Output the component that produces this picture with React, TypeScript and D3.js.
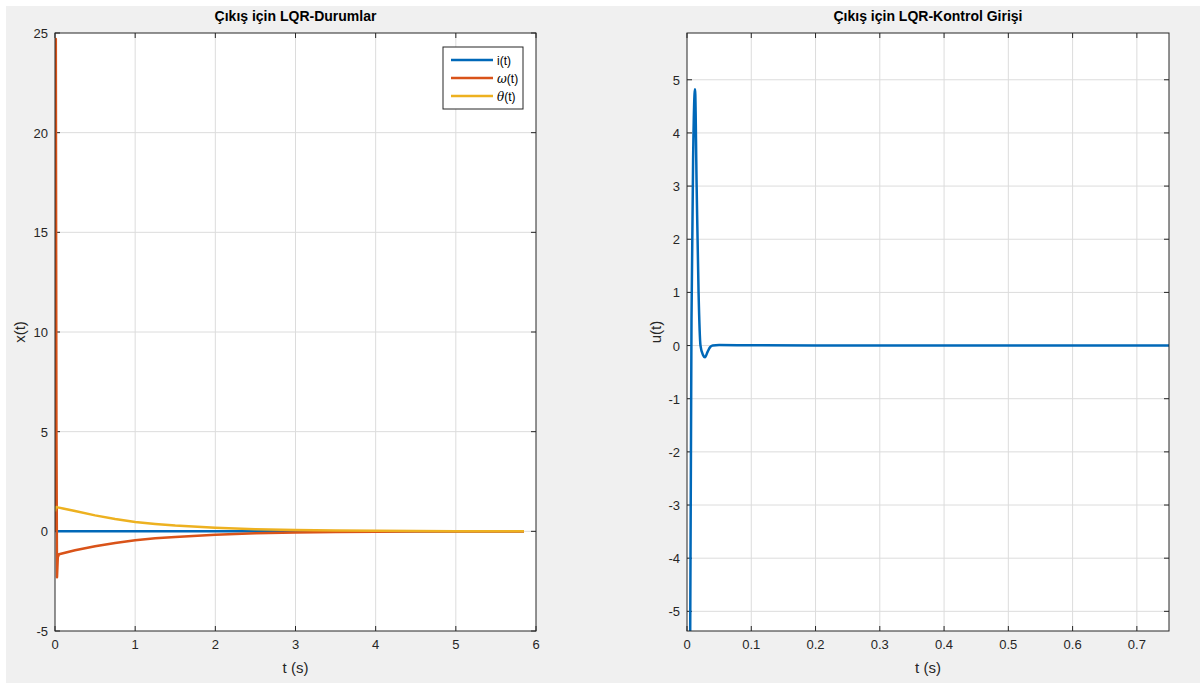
import React, { useRef, useEffect } from 'react';
import * as d3 from 'd3';

// left plot: states
const stateTime = [0, 0.004, 0.01, 0.018, 0.025, 0.035, 0.05, 0.1, 0.25, 0.5, 0.75, 1, 1.25, 1.5, 2, 2.5, 3, 3.5, 4, 4.5, 5, 5.5, 5.85];
const iValues = [1.0, 0.5, 0.1, 0.0, 0.0, 0.0, 0.0, 0, 0, 0, 0, 0, 0, 0, 0, 0, 0, 0, 0, 0, 0, 0, 0];
const omegaValues = [0, 10, 24.7, 5, -2.3, -1.3, -1.15, -1.1, -0.95, -0.75, -0.58, -0.45, -0.35, -0.28, -0.17, -0.1, -0.06, -0.035, -0.02, -0.012, -0.008, -0.005, -0.003];
const thetaValues = [1.0, 1.1, 1.2, 1.22, 1.22, 1.2, 1.19, 1.15, 1.02, 0.8, 0.62, 0.47, 0.37, 0.29, 0.18, 0.11, 0.065, 0.04, 0.025, 0.015, 0.01, 0.005, 0.003];

// right plot: control input
const uTime = [0, 0.007, 0.0095, 0.0125, 0.015, 0.018, 0.021, 0.025, 0.028, 0.032, 0.036, 0.04, 0.05, 0.1, 0.2, 0.4, 0.6, 0.75];
const uValues = [-20, 0.5, 3.5, 4.82, 3.0, 1.0, 0.0, -0.18, -0.22, -0.12, -0.03, 0.0, 0.01, 0.005, 0.0, 0.0, 0.0, 0.0];

const stateLabels = ['i(t)', 'ω(t)', 'θ(t)'];
const stateColors = ['#0068B8', '#D95319', '#EDB120'];

const leftXTicks = [0, 1, 2, 3, 4, 5, 6];
const leftYTicks = [-5, 0, 5, 10, 15, 20, 25];
const rightXTicks = [0, 0.1, 0.2, 0.3, 0.4, 0.5, 0.6, 0.7];
const rightYTicks = [-5, -4, -3, -2, -1, 0, 1, 2, 3, 4, 5];

const FONT = 'Liberation Sans, Arial, Helvetica, sans-serif';

function App() {
  const svgRef = useRef<SVGSVGElement>(null);

  useEffect(() => {
    const svg = d3.select(svgRef.current);
    svg.selectAll('*').remove();

    svg.append('rect').attr('width', 1200).attr('height', 686).attr('fill', '#ffffff');
    svg.append('rect').attr('x', 6).attr('y', 6).attr('width', 1194).attr('height', 677).attr('fill', '#f0f0f0');

    const defs = svg.append('defs');

    function drawAxes(opts: any) {
      const { left, right, top, bottom, xDomain, yDomain, xTicks, yTicks, title, xLabel, yLabel, id, yLabelX } = opts;
      const x = d3.scaleLinear().domain(xDomain).range([left, right]);
      const y = d3.scaleLinear().domain(yDomain).range([bottom, top]);
      const g = svg.append('g');

      g.append('rect')
        .attr('x', left).attr('y', top)
        .attr('width', right - left).attr('height', bottom - top)
        .attr('fill', '#ffffff');

      // grid
      g.selectAll('.gx').data(xTicks.filter((t: number) => x(t) > left + 1 && x(t) < right - 1)).enter()
        .append('line')
        .attr('x1', (d: number) => x(d)).attr('x2', (d: number) => x(d))
        .attr('y1', top).attr('y2', bottom)
        .attr('stroke', '#dcdcdc').attr('stroke-width', 1);
      g.selectAll('.gy').data(yTicks.filter((t: number) => y(t) > top + 1 && y(t) < bottom - 1)).enter()
        .append('line')
        .attr('y1', (d: number) => y(d)).attr('y2', (d: number) => y(d))
        .attr('x1', left).attr('x2', right)
        .attr('stroke', '#dcdcdc').attr('stroke-width', 1);

      defs.append('clipPath').attr('id', id)
        .append('rect').attr('x', left).attr('y', top).attr('width', right - left).attr('height', bottom - top);

      // ticks (inward, all four sides)
      const tl = 5;
      xTicks.forEach((t: number) => {
        g.append('line').attr('x1', x(t)).attr('x2', x(t)).attr('y1', bottom).attr('y2', bottom - tl).attr('stroke', '#262626');
        g.append('line').attr('x1', x(t)).attr('x2', x(t)).attr('y1', top).attr('y2', top + tl).attr('stroke', '#262626');
        g.append('text').attr('x', x(t)).attr('y', bottom + 18)
          .attr('text-anchor', 'middle').style('font-family', FONT).style('font-size', '13px').attr('fill', '#262626')
          .text(String(t));
      });
      yTicks.forEach((t: number) => {
        g.append('line').attr('y1', y(t)).attr('y2', y(t)).attr('x1', left).attr('x2', left + tl).attr('stroke', '#262626');
        g.append('line').attr('y1', y(t)).attr('y2', y(t)).attr('x1', right).attr('x2', right - tl).attr('stroke', '#262626');
        g.append('text').attr('x', left - 7).attr('y', y(t) + 5)
          .attr('text-anchor', 'end').style('font-family', FONT).style('font-size', '13px').attr('fill', '#262626')
          .text(String(t));
      });

      // title and labels
      svg.append('text').attr('x', (left + right) / 2).attr('y', 21)
        .attr('text-anchor', 'middle').style('font-family', FONT).style('font-size', '14px').style('font-weight', 'bold')
        .attr('fill', '#000000').text(title);
      svg.append('text').attr('x', (left + right) / 2).attr('y', 673)
        .attr('text-anchor', 'middle').style('font-family', FONT).style('font-size', '15px')
        .attr('fill', '#262626').text(xLabel);
      svg.append('text')
        .attr('transform', `translate(${yLabelX}, ${(top + bottom) / 2}) rotate(-90)`)
        .attr('text-anchor', 'middle').style('font-family', FONT).style('font-size', '15px')
        .attr('fill', '#262626').text(yLabel);

      return { x, y, g };
    }

    // left axes
    const L = drawAxes({
      left: 55, right: 536, top: 33, bottom: 631,
      xDomain: [0, 6], yDomain: [-5, 25],
      xTicks: leftXTicks, yTicks: leftYTicks,
      title: 'Çıkış için LQR-Durumlar', xLabel: 't (s)', yLabel: 'x(t)', id: 'clipL', yLabelX: 25,
    });
    const series = [iValues, omegaValues, thetaValues];
    const lineL = d3.line<number>()
      .x((d, i) => L.x(stateTime[i]))
      .y((d) => L.y(d));
    series.forEach((vals, k) => {
      svg.append('path')
        .datum(vals)
        .attr('d', lineL)
        .attr('clip-path', 'url(#clipL)')
        .attr('fill', 'none')
        .attr('stroke', stateColors[k])
        .attr('stroke-width', 2.5)
        .attr('stroke-linejoin', 'round');
    });

    // left box
    svg.append('rect').attr('x', 55).attr('y', 33).attr('width', 481).attr('height', 598)
      .attr('fill', 'none').attr('stroke', '#262626').attr('stroke-width', 1);

    // legend
    const lg = svg.append('g').attr('transform', 'translate(443, 47)');
    lg.append('rect').attr('width', 80).attr('height', 62).attr('fill', '#ffffff').attr('stroke', '#262626').attr('stroke-width', 1);
    stateLabels.forEach((lab, k) => {
      const yy = 13 + k * 18;
      lg.append('line').attr('x1', 8).attr('x2', 50).attr('y1', yy).attr('y2', yy)
        .attr('stroke', stateColors[k]).attr('stroke-width', 2.5);
      const t = lg.append('text').attr('x', 54).attr('y', yy + 4.5)
        .style('font-family', FONT).style('font-size', '12px').attr('fill', '#000000');
      if (k === 0) {
        t.text(lab);
      } else {
        t.append('tspan').style('font-style', 'italic').style('font-family', 'DejaVu Serif, serif').text(lab[0]);
        t.append('tspan').text(lab.slice(1));
      }
    });

    // right axes
    const R = drawAxes({
      left: 687, right: 1169, top: 33, bottom: 631,
      xDomain: [0, 0.75], yDomain: [-5.37, 5.88],
      xTicks: rightXTicks, yTicks: rightYTicks,
      title: 'Çıkış için LQR-Kontrol Girişi', xLabel: 't (s)', yLabel: 'u(t)', id: 'clipR', yLabelX: 661,
    });
    const lineR = d3.line<number>()
      .x((d, i) => R.x(uTime[i]))
      .y((d) => R.y(d))
      .curve(d3.curveMonotoneX);
    svg.append('path')
      .datum(uValues)
      .attr('d', lineR)
      .attr('clip-path', 'url(#clipR)')
      .attr('fill', 'none')
      .attr('stroke', '#0068B8')
      .attr('stroke-width', 2.5)
      .attr('stroke-linejoin', 'round');

    svg.append('rect').attr('x', 687).attr('y', 33).attr('width', 482).attr('height', 598)
      .attr('fill', 'none').attr('stroke', '#262626').attr('stroke-width', 1);
  }, []);

  return (
    <svg
      ref={svgRef}
      width={1200}
      height={686}
      style={{ position: 'absolute', left: 0, top: 0, display: 'block' }}
    />
  );
}

export default App;
